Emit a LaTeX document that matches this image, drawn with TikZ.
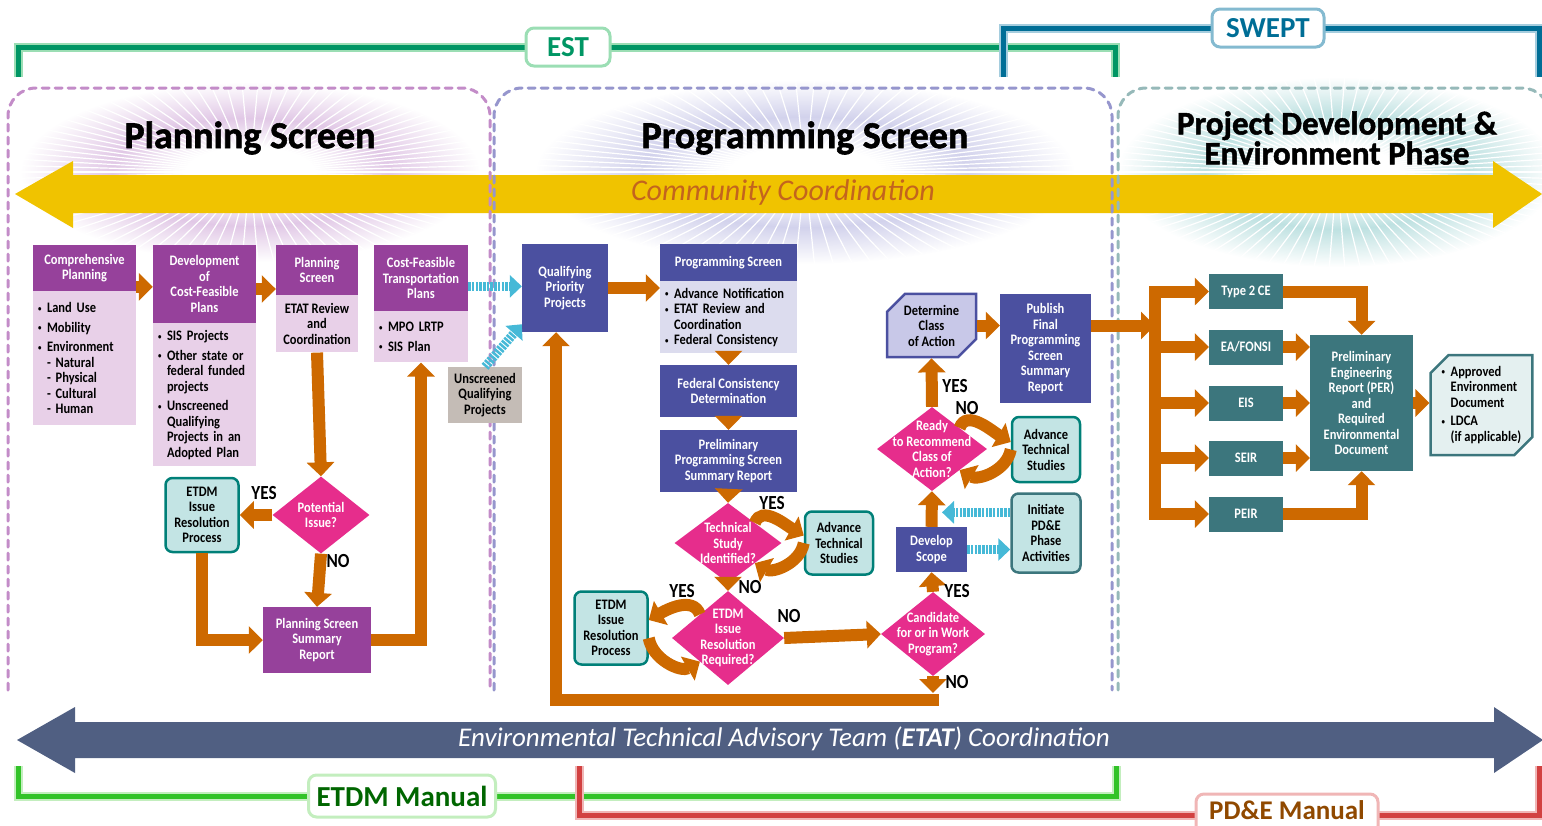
\documentclass[tikz,border=0pt]{standalone}
\usepackage{fontspec}
\setmainfont{Carlito}
\newfontfamily\cond{Carlito}[FakeStretch=0.86]
\newfontfamily\heavy{Carlito}[BoldFeatures={FakeBold=1.5}]
\usetikzlibrary{arrows.meta,positioning,shapes.geometric,shapes.misc}

\definecolor{plum}{RGB}{150,65,155}
\definecolor{plumL}{RGB}{232,208,232}
\definecolor{navy}{RGB}{75,80,160}
\definecolor{lav}{RGB}{220,220,238}
\definecolor{lavD}{RGB}{200,200,232}
\definecolor{mag}{RGB}{230,45,140}
\definecolor{tealD}{RGB}{0,128,120}
\definecolor{tealL}{RGB}{195,228,228}
\definecolor{slate}{RGB}{60,118,125}
\definecolor{slateL}{RGB}{228,240,240}
\definecolor{stone}{RGB}{196,188,182}
\definecolor{arr}{RGB}{205,105,0}
\definecolor{cyanA}{RGB}{70,185,215}
\definecolor{gold}{RGB}{240,195,0}
\definecolor{rust}{RGB}{195,100,30}
\definecolor{etatB}{RGB}{80,95,130}
\definecolor{estD}{RGB}{0,150,100}
\definecolor{estL}{RGB}{155,222,180}
\definecolor{swD}{RGB}{0,110,150}
\definecolor{swL}{RGB}{165,205,222}
\definecolor{mnD}{RGB}{50,195,40}
\definecolor{mnL}{RGB}{195,238,190}
\definecolor{pdD}{RGB}{210,65,65}
\definecolor{pdL}{RGB}{240,182,182}
\definecolor{glP}{RGB}{225,200,230}
\definecolor{glG}{RGB}{210,210,236}
\definecolor{glT}{RGB}{190,225,225}
\definecolor{secP}{RGB}{195,140,200}
\definecolor{secG}{RGB}{150,150,205}
\definecolor{secT}{RGB}{150,185,185}

\pgfdeclareradialshading{glowP}{\pgfpointorigin}{color(0bp)=(white); color(7bp)=(white); color(15bp)=(glP); color(25bp)=(white); color(50bp)=(white)}
\pgfdeclareradialshading{glowG}{\pgfpointorigin}{color(0bp)=(white); color(7bp)=(white); color(15bp)=(glG); color(25bp)=(white); color(50bp)=(white)}
\pgfdeclareradialshading{glowT}{\pgfpointorigin}{color(0bp)=(white); color(7bp)=(white); color(15bp)=(glT); color(25bp)=(white); color(50bp)=(white)}

\newcommand\bxfont{\cond\bfseries\fontsize{14.5}{15.5}\selectfont}
\newcommand\itmb{\makebox[9pt][l]{\raisebox{1.5pt}{\fontsize{8}{8}\selectfont\textbullet}}}
\newcommand\itmi{\hspace*{9pt}}

\tikzset{
  wh/.style 2 args={minimum width=#1pt, minimum height=#2pt},
  bx/.style={inner sep=2pt, align=center, font=\bxfont},
  phd/.style={bx, fill=plum, text=white},
  pbd/.style={bx, fill=plumL, align=left, inner sep=5pt},
  nvy/.style={bx, fill=navy, text=white},
  lbd/.style={bx, fill=lav, align=left, inner sep=5pt},
  tl/.style={bx, fill=tealL, draw=tealD, line width=2.5pt, rounded corners=7pt},
  pd/.style={bx, fill=slate, text=white},
  chm/.style={bx, chamfered rectangle, chamfered rectangle xsep=9pt, chamfered rectangle ysep=9pt,
    chamfered rectangle corners={north west,south east}, line width=2.5pt},
  dec/.style={diamond, fill=mag, inner sep=0pt},
  dtx/.style={font=\bxfont, text=white, align=center},
  yn/.style={font=\cond\bfseries\fontsize{20}{20}\selectfont},
  flow/.style={draw=arr, line width=12pt, -{Triangle[width=27pt,length=14pt]}},
  cyan flow/.style={draw=cyanA, line width=9pt, dash pattern=on 2.5pt off 1.2pt, -{Triangle[width=22pt,length=12pt]}},
  bus/.style={draw=arr, line width=12pt, line cap=rect},
  sec/.style={dash pattern=on 7pt off 6pt, line width=3pt, line cap=round, rounded corners=28pt},
  ttl/.style={font=\heavy\bfseries\fontsize{#1}{30}\selectfont, align=center},
  brk/.style 2 args={draw=#2, double=#1, line width=2pt, double distance=5pt},
  tag/.style 2 args={fill=white, draw=#1, text=#2, line width=3pt, rounded corners=8pt, inner sep=0pt,
    font=\bfseries\fontsize{29}{29}\selectfont},
}

\begin{document}
\begin{tikzpicture}[x=1pt, y=-1pt]
  \useasboundingbox (0,0) rectangle (1542,825);
  %\draw[help lines, step=50] (0,0) grid (1542,825);

  % glows behind the titles
  \foreach \cx/\cy/\rx/\ry/\sh in {250/172/230/90/glowP, 805/172/270/92/glowG, 1337/172/220/95/glowT}{
    \begin{scope}
      \clip (\cx,\cy) ellipse (\rx pt and \ry pt);
      \shade[shading=\sh] (\cx,\cy) ellipse (\rx pt and \ry pt);
      \foreach \a in {0,4,...,356}
        \draw[white, line width=1.2pt] (\cx,\cy) -- ++(\a:\rx pt and \ry pt);
    \end{scope}
  }

  \fill[gold] (15,194) -- (73,161) -- (73,175) -- (1493,175) -- (1493,161) -- (1542,194)
    -- (1493,228) -- (1493,213) -- (73,213) -- (73,228) -- cycle;
  \node[font=\itshape\fontsize{30}{30}\selectfont, text=rust] (cc) at (783,192) {Community Coordination};

  \draw[sec, secP] (8,690) -- (8,88) -- (490,88) -- (490,690);
  \draw[sec, secG] (494,690) -- (494,88) -- (1112,88) -- (1112,690);
  \draw[sec, secT] (1118,690) -- (1118,88) -- (1550,88) -- (1550,690);

  \node[ttl=38] (tPlan) at (250,138) {Planning Screen};
  \node[ttl=38] (tProg) at (805,138) {Programming Screen};
  \node[ttl=33] (tPde) at (1337,138) {Project Development \&\\Environment Phase};

  % brackets
  \draw[brk={estD}{estL}] (18,77) |- (1115,47) -- (1115,77);
  \draw[brk={swD}{swL}] (1003,77) |- (1539,28) -- (1539,77);
  \node[tag={estL}{estD}, wh={84}{38}] (est) at (568,47) {EST};
  \node[tag={swL!80!swD}{swD}, wh={112}{38}] (swept) at (1268,28) {SWEPT};

  % planning screen
  \node[phd, wh={103}{46}] (compH) at (84.5,268) {Comprehensive\\Planning};
  \node[pbd, wh={103}{134}, text width=93pt, below=0pt of compH] (compB)
    {\itmb Land Use\\[4pt]\itmb Mobility\\[4pt]\itmb Environment\\\itmi- Natural\\\itmi- Physical\\\itmi- Cultural\\\itmi- Human};
  \node[phd, wh={103}{78}] (devH) at (204.5,284) {Development\\of\\Cost-Feasible\\Plans};
  \node[pbd, wh={103}{143}, text width=93pt, below=0pt of devH] (devB)
    {\itmb SIS Projects\\[4pt]\itmb Other state or\\\itmi federal funded\\\itmi projects\\[4pt]\itmb Unscreened\\\itmi Qualifying\\\itmi Projects in an\\\itmi Adopted Plan};
  \node[phd, wh={82}{50}] (psH) at (317,270) {Planning\\Screen};
  \node[bx, fill=plumL, wh={82}{57}, below=0pt of psH] (psB) {ETAT Review\\and\\Coordination};
  \node[phd, wh={94}{66}] (cfH) at (421,278) {Cost-Feasible\\Transportation\\Plans};
  \node[pbd, wh={94}{51}, text width=84pt, below=0pt of cfH] (cfB) {\itmb MPO LRTP\\[4pt]\itmb SIS Plan};
  \node[dec, wh={97}{77}, label={[dtx]center:Potential\\Issue?}] (potD) at (321,515) {};
  \node[tl, wh={73}{74}] (etdmA) at (202,515) {ETDM\\Issue\\Resolution\\Process};
  \node[phd, wh={108}{66}] (psr) at (317,640) {Planning Screen\\Summary\\Report};

  % programming screen
  \node[nvy, wh={86}{88}] (qpp) at (565,288) {Qualifying\\Priority\\Projects};
  \node[bx, fill=stone, wh={74}{56}] (uqp) at (485,395) {Unscreened\\Qualifying\\Projects};
  \node[nvy, wh={137}{37}] (pgH) at (728.5,262.5) {Programming Screen};
  \node[lbd, wh={137}{72}, text width=127pt, below=0pt of pgH] (pgB)
    {\itmb Advance Notification\\\itmb ETAT Review and\\\itmi Coordination\\\itmb Federal Consistency};
  \node[nvy, wh={137}{52}] (fcd) at (728.5,391) {Federal Consistency\\Determination};
  \node[nvy, wh={137}{62}] (pps) at (728.5,461) {Preliminary\\Programming Screen\\Summary Report};
  \node[dec, wh={107}{80}, label={[dtx]center:Technical\\Study\\Identified?}] (td) at (728,543) {};
  \node[tl, wh={68}{63}] (ats1) at (839,543) {Advance\\Technical\\Studies};
  \node[dec, wh={112}{94}, label={[dtx]center:ETDM\\Issue\\Resolution\\Required?}] (ed) at (728,638) {};
  \node[tl, wh={73}{73}] (etdmB) at (611,628) {ETDM\\Issue\\Resolution\\Process};
  \node[dec, wh={104}{84}, label={[dtx]center:Candidate\\for or in Work\\Program?}] (cd) at (933,634) {};
  \node[nvy, wh={71}{45}] (ds) at (931.5,549.5) {Develop\\Scope};
  \node[tl, draw=slate, wh={69}{79}] (ipa) at (1046,533) {Initiate\\PD\&E\\Phase\\Activities};
  \node[dec, wh={110}{84}, label={[dtx]center:Ready\\to Recommend\\Class of\\Action?}] (rd) at (932,449) {};
  \node[chm, fill=lavD, draw=navy, wh={89}{63}] (dc) at (931.5,325.5) {Determine\\Class\\of Action};
  \node[nvy, wh={91}{109}] (pf) at (1045.5,348.5) {Publish\\Final\\Programming\\Screen\\Summary\\Report};
  \node[tl, wh={68}{65}] (ats2) at (1046,449.5) {Advance\\Technical\\Studies};

  % project development and environment
  \foreach \n/\y/\t in {t2/291.5/Type 2 CE, ea/347/{EA/FONSI}, eis/403/EIS, seir/458/SEIR, peir/514/PEIR}
    \node[pd, wh={74}{35}] (\n) at (1246,\y) {\t};
  \node[pd, wh={103}{136}] (per) at (1361.5,403)
    {Preliminary\\Engineering\\Report (PER)\\and\\Required\\Environmental\\Document};
  \node[chm, fill=slateL, draw=slate, align=left, wh={99}{100}] (app) at (1481.5,405)
    {\itmb Approved\\\itmi Environment\\\itmi Document\\[3pt]\itmb LDCA\\\itmi (if applicable)};

  % flow arrows
  \draw[flow] (compH.-20) -- (compH.-20 -| devH.west);
  \draw[flow] ([yshift=-5pt]devH.east) -- ([yshift=-5pt]devH.east -| psH.west);
  \draw[flow] (psB.south) -- (potD.north);
  \draw[flow] (potD.west) -- (etdmA.east);
  \draw[flow] (potD.south) -- (psr.north);
  \draw[flow] (etdmA.south) |- (psr.west);
  \draw[flow] (psr.east) -| (cfB.south);
  \draw[cyan flow] (cfH.-10) -- (cfH.-10 -| qpp.west);
  \draw[cyan flow] (uqp.north) -- (qpp.-140);

  \draw[flow] (qpp.east) -- (qpp.east -| pgB.west);
  \draw[flow] (pgB.south) -- (fcd.north);
  \draw[flow] (fcd.south) -- (pps.north);
  \draw[flow] (pps.south) -- (td.north);
  \draw[flow] (td.north east) to[out=70, in=150] (ats1.168);
  \draw[flow] (ats1.west) to[out=-100, in=-30] (td.south east);
  \draw[flow] (td.south) -- (ed.north);
  \draw[flow] (ed.north west) to[out=110, in=30] (etdmB.12);
  \draw[flow] (etdmB.-15) to[out=-80, in=210] (ed.south west);
  \draw[flow] (ed.east) -- (cd.west);
  \draw[flow] (cd.north) -- (ds.south);
  \coordinate (back) at (556,700);
  \draw[flow, line cap=rect] (cd.south |- back) -- (back) -- (back |- qpp.south);
  \draw[flow, shorten >=7pt] (cd.south) -- (cd.south |- back);
  \draw[flow] (ds.north) -- (rd.south);
  \draw[cyan flow, shorten >=10pt] (ipa.150) -- (ipa.150 -| rd.south);
  \draw[cyan flow] (ds.east) -- (ds.east -| ipa.west);
  \draw[flow] (rd.north) -- (dc.south);
  \draw[flow] (rd.north east) to[out=70, in=150] (ats2.168);
  \draw[flow] (ats2.west) to[out=-100, in=-30] (rd.south east);
  \draw[flow] (dc.east) -- (dc.east -| pf.west);

  \coordinate (busT) at (1155,291.5);
  \coordinate (busB) at (1155,514);
  \draw[bus] (busT) -- (busB);
  \draw[flow] (dc.east -| pf.east) -- (dc.east -| busT);
  \foreach \b in {t2,ea,eis,seir,peir}
    \draw[flow] (\b.west -| busT) -- (\b.west);
  \foreach \b in {ea,eis,seir}
    \draw[flow] (\b.east) -- (\b.east -| per.west);
  \draw[flow] (t2.east) -| (per.north);
  \draw[flow] (peir.east) -| (per.south);
  \draw[flow] (per.east) -- (per.east -| app.west);

  \foreach \n/\x/\y/\t in {y1/264/493/YES, y2/772/503/YES, y3/682/591/YES, y4/957/591/YES, y5/955/386/YES,
      n1/338/561/NO, n2/750/587/NO, n3/789/616/NO, n4/957/682/NO, n5/967/408/NO}
    \node[yn] (\n) at (\x,\y) {\t};

  % ETAT band and manuals
  \fill[etatB] (17,740) -- (75,707) -- (75,722) -- (1494,722) -- (1494,707) -- (1543,740)
    -- (1494,773) -- (1494,758) -- (75,758) -- (75,773) -- cycle;
  \node[font=\itshape\fontsize{27}{27}\selectfont, text=white] (etat) at (784,739)
    {Environmental Technical Advisory Team (\textbf{ETAT}) Coordination};

  \draw[brk={mnD}{mnL}] (18,766) |- (1116,796) -- (1116,766);
  \draw[brk={pdD}{pdL}] (579,766) |- (1539,815) -- (1539,766);
  \node[tag={mnL}{green!40!black}, wh={187}{42}] (etdmM) at (402,796) {ETDM Manual};
  \node[tag={pdL}{arr!70!black}, wh={182}{40}] (pdeM) at (1287,814) {};
  \node[font=\bfseries\fontsize{27}{27}\selectfont, text=arr!70!black] (pdeT) at (1287,810) {PD\&E Manual};
\end{tikzpicture}
\end{document}
